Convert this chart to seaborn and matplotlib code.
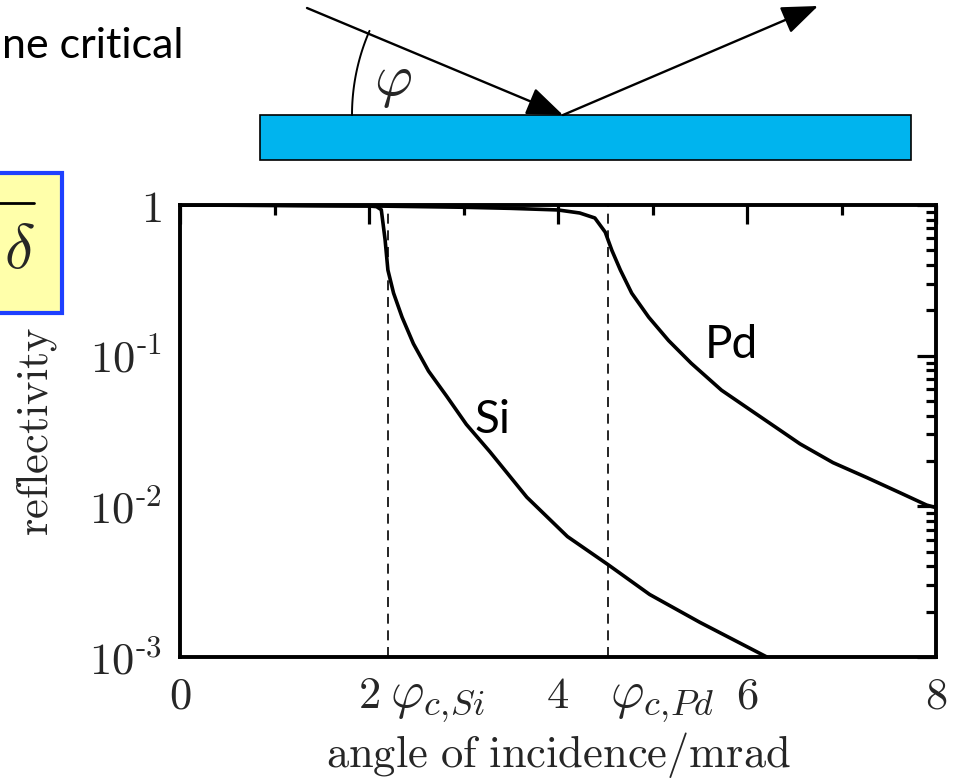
import numpy as np
import pandas as pd
import matplotlib
matplotlib.use("Agg")
import matplotlib.pyplot as plt
import seaborn as sns
from matplotlib.patches import Rectangle, FancyArrowPatch
from matplotlib.ticker import FixedLocator, MultipleLocator, LogLocator, NullFormatter
from matplotlib.transforms import blended_transform_factory

# ---------------- data ----------------
si_angle = [0.0, 1.0, 2.0, 2.08, 2.13, 2.17, 2.20, 2.26, 2.35, 2.47, 2.63, 2.82,
            3.03, 3.28, 3.67, 4.10, 4.53, 4.97, 5.50, 6.00, 6.21]
si_refl = [1.0, 0.995, 0.985, 0.975, 0.93, 0.59, 0.37, 0.26, 0.18, 0.12, 0.079,
           0.054, 0.035, 0.023, 0.0115, 0.0063, 0.0041, 0.0026, 0.0017, 0.00117, 0.00100]
pd_angle = [0.0, 1.0, 2.0, 3.0, 3.5, 4.0, 4.23, 4.39, 4.50, 4.57, 4.66, 4.78, 4.96,
            5.17, 5.41, 5.73, 6.05, 6.35, 6.56, 6.91, 7.27, 7.62, 7.90, 8.0]
pd_refl = [1.0, 0.993, 0.986, 0.966, 0.95, 0.927, 0.885, 0.82, 0.66, 0.50, 0.37,
           0.26, 0.18, 0.126, 0.089, 0.059, 0.043, 0.032, 0.026, 0.0195, 0.0155,
           0.0123, 0.0102, 0.0098]
materials = ["Si", "Pd"]
critical_angles = [2.20, 4.53]
critical_labels = [r"$\varphi_{c,\!Si}$", r"$\varphi_{c,\!Pd}$"]
curve_label_pos = [(3.31, 0.0374), (5.83, 0.118)]
x_ticks = [0, 2, 4, 6, 8]
x_tick_labels = ["$0$", "$2$", "$4$", "$6$", "$8$"]
y_ticks = [1, 1e-1, 1e-2, 1e-3]
y_tick_labels = ["$1$", r"$10^{\text{-}1}$", r"$10^{\text{-}2}$", r"$10^{\text{-}3}$"]

df = pd.DataFrame({
    "angle": si_angle + pd_angle,
    "R": si_refl + pd_refl,
    "material": ["Si"] * len(si_angle) + ["Pd"] * len(pd_angle),
})

# ---------------- style ----------------
sns.set_theme(style="white")
plt.rcParams["mathtext.fontset"] = "cm"
plt.rcParams["font.family"] = ["Lato", "DejaVu Sans"]

W, H = 961, 780
fig = plt.figure(figsize=(W / 100, H / 100), dpi=100)
fig.patch.set_facecolor("white")

# decoration layer in pixel coordinates
deco = fig.add_axes([0, 0, 1, 1], zorder=0)
deco.set_xlim(0, W)
deco.set_ylim(H, 0)
deco.axis("off")

deco.text(2, 58, "ne critical", ha="left", va="baseline", fontsize=31,
          color="black")
# highlighted formula box (cut at the left edge)
deco.add_patch(Rectangle((-10, 173), 72, 140, facecolor="#FFFFAA",
                         edgecolor="#1E40FF", lw=3))
deco.plot([-5, 34], [203, 203], color="black", lw=2)
deco.text(19, 250, r"$\delta$", ha="center", va="center", fontsize=46)

# mirror and rays
deco.add_patch(Rectangle((260, 115), 651, 45, facecolor="#00B4EE",
                         edgecolor="black", lw=1.2))
hit = (563, 115)
for start, end in [((307, 8), hit), (hit, (818, 6))]:
    deco.add_patch(FancyArrowPatch(start, end,
                                   arrowstyle="-|>,head_length=0.9,head_width=0.35",
                                   mutation_scale=25, color="black", lw=1.7,
                                   shrinkA=0, shrinkB=0))
r = hit[0] - 352
t = np.radians(np.linspace(0, 23.5, 40))
deco.plot(hit[0] - r * np.cos(t), hit[1] - r * np.sin(t), color="black", lw=1.4)
deco.text(393, 84, r"$\varphi$", ha="center", va="center", fontsize=42)

# ---------------- main chart ----------------
ax = fig.add_axes([180 / W, 1 - 657 / H, 756 / W, 452 / H], zorder=1)
sns.lineplot(data=df, x="angle", y="R", hue="material", hue_order=materials,
             palette=["black", "black"], estimator=None, sort=False,
             legend=False, lw=2.6, ax=ax)
for ln in ax.get_lines():
    ln.set_solid_joinstyle("round")
ax.set_yscale("log")
ax.set_xlim(0, 8)
ax.set_ylim(1e-3, 1)

for xc in critical_angles:
    ax.axvline(xc, color="black", lw=1.2, dashes=(6, 4))

for (lx, ly), name in zip(curve_label_pos, materials):
    ax.text(lx, ly, name, ha="center", va="center", fontsize=33, color="black")

trans = blended_transform_factory(ax.transData, ax.transAxes)
for xc, lab in zip(critical_angles, critical_labels):
    ax.text(xc + 0.02, -0.112, lab, transform=trans, ha="left", va="baseline",
            fontsize=37)

ax.xaxis.set_major_locator(FixedLocator(x_ticks))
ax.set_xticklabels(x_tick_labels)
ax.xaxis.set_minor_locator(MultipleLocator(1))
ax.yaxis.set_major_locator(FixedLocator(y_ticks))
ax.set_yticklabels(y_tick_labels)
ax.yaxis.set_minor_locator(LogLocator(base=10, subs=np.arange(2, 10)))
ax.yaxis.set_minor_formatter(NullFormatter())

ax.tick_params(which="both", direction="in", top=True, right=True,
               color="black", width=2.3)
ax.tick_params(which="major", length=14, labelsize=32, pad=13)
ax.tick_params(which="minor", length=7)
for s in ax.spines.values():
    s.set_color("black")
    s.set_linewidth(2.8)

ax.set_xlabel(r"$\mathrm{angle\ of\ incidence/mrad}$", fontsize=32,
              va="center")
ax.xaxis.set_label_coords(0.5, -0.217)
ax.set_ylabel(r"$\mathrm{reflectivity}$", fontsize=32, va="center")
ax.yaxis.set_label_coords(-0.19, 0.5)

fig.savefig("out.png", dpi=100, facecolor="white")
